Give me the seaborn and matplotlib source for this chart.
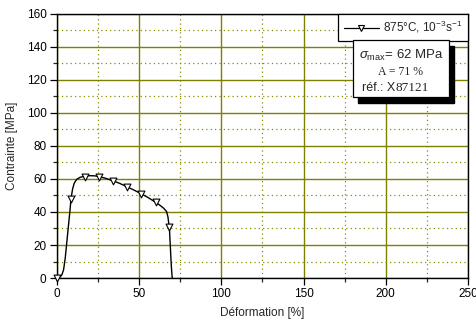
import matplotlib
matplotlib.use("Agg")
import matplotlib.pyplot as plt
from matplotlib.lines import Line2D
from matplotlib.patches import Rectangle
from matplotlib.ticker import MultipleLocator
import seaborn as sns
import pandas as pd

# Tensile curve at 875 °C, strain rate 1e-3 s^-1
strain = [0, 1, 2, 3, 4, 5, 6, 7, 8, 8.5, 9.5, 10.5, 12, 14, 17, 20, 23, 25.5,
          30, 34.3, 38, 42.8, 47, 51.3, 55, 60, 63, 65, 66.7, 67.5, 68, 68.5,
          69, 69.5, 70, 70.2]
stress = [0, 0.3, 0.8, 2, 5, 12, 22, 32, 42, 48, 54, 57.5, 59.8, 61, 61.8, 62,
          61.9, 61.5, 60.3, 58.8, 57.4, 55.2, 53.2, 51, 49, 45.9, 43.8, 42.2,
          40.2, 37, 33, 28, 18, 8, 1, 0]

# Symbols placed along the curve
marker_strain = [0, 8.5, 17, 25.5, 34.3, 42.8, 51.3, 60, 68.3]
marker_stress = [0, 48, 61.5, 61.5, 58.8, 55.2, 51, 45.9, 31]

legend_label = r"875°C, 10$^{-3}$s$^{-1}$"
sigma_max = 62
elongation = 71
ref_code = "87121"

sns.set_style("ticks")
plt.rcParams["font.family"] = ["Liberation Sans", "DejaVu Sans"]
plt.rcParams["mathtext.fontset"] = "custom"
plt.rcParams["mathtext.rm"] = "Liberation Sans"
plt.rcParams["mathtext.it"] = "Liberation Sans:italic"
plt.rcParams["mathtext.bf"] = "Liberation Sans:bold"

fig = plt.figure(figsize=(4.77, 3.25), dpi=100)
ax = fig.add_axes([0.1195, 0.1446, 0.8615, 0.8124])

curve = pd.DataFrame({"strain": strain, "stress": stress})
marks = pd.DataFrame({"strain": marker_strain, "stress": marker_stress})

sns.lineplot(data=curve, x="strain", y="stress", sort=False, color="black",
             linewidth=1.0, ax=ax, zorder=3)
sns.scatterplot(data=marks, x="strain", y="stress", marker="v", s=24,
                facecolor="white", edgecolor="black", linewidth=0.8,
                ax=ax, zorder=4, clip_on=False)

ax.set_xlim(0, 250)
ax.set_ylim(0, 160)
ax.xaxis.set_major_locator(MultipleLocator(50))
ax.xaxis.set_minor_locator(MultipleLocator(25))
ax.yaxis.set_major_locator(MultipleLocator(20))
ax.yaxis.set_minor_locator(MultipleLocator(10))

olive = "#808000"
ax.grid(which="major", color=olive, linewidth=1.0, linestyle="-", zorder=0)
ax.grid(which="minor", color="#8c8c00", linewidth=0.9, linestyle=(0, (1, 2.5)), zorder=0)
ax.set_axisbelow(True)

for s in ax.spines.values():
    s.set_color("black")
    s.set_linewidth(1.0)
    s.set_visible(True)

ax.tick_params(which="major", direction="out", length=5, width=0.9,
               labelsize=8.5, colors="black", pad=2.5)
ax.tick_params(which="minor", direction="out", length=2.8, width=0.9)

ax.set_xlabel("Déformation [%]", fontsize=8.5, labelpad=5)
ax.set_ylabel("Contrainte [MPa]", fontsize=8.5, labelpad=6)

handle = Line2D([], [], color="black", linewidth=0.9, marker="v",
                markersize=4, markerfacecolor="white",
                markeredgecolor="black", markeredgewidth=0.8)
leg = ax.legend([handle], [legend_label], loc="upper right", fontsize=8.5,
                frameon=True, fancybox=False, borderaxespad=0.0,
                handlelength=3.0, handletextpad=0.35, borderpad=0.45)
leg.get_frame().set_edgecolor("black")
leg.get_frame().set_linewidth(0.9)
leg.get_frame().set_alpha(1)

# Summary box with drop shadow
bx0, by0, bw, bh = 0.7195, 0.6845, 0.235, 0.217
ax.add_patch(Rectangle((bx0 + 0.012, by0 - 0.022), bw, bh, transform=ax.transAxes,
                       facecolor="black", edgecolor="black", zorder=5, clip_on=False))
ax.add_patch(Rectangle((bx0, by0), bw, bh, transform=ax.transAxes,
                       facecolor="white", edgecolor="black", linewidth=0.9,
                       zorder=6, clip_on=False))
cx = bx0 + bw / 2
ax.text(cx, 0.8447, r"$\sigma_{\rm max}$= " + f"{sigma_max} MPa",
        transform=ax.transAxes, ha="center", va="center", fontsize=9.5, zorder=7)
ax.text(cx, 0.7814, f"A = {elongation} %", transform=ax.transAxes,
        ha="center", va="center", fontsize=8.5, family="Liberation Serif", zorder=7)
ax.text(0.8235, 0.7197, "réf.: X", transform=ax.transAxes,
        ha="right", va="center", fontsize=9, zorder=7)
ax.text(0.8235, 0.7197, ref_code, transform=ax.transAxes,
        ha="left", va="center", fontsize=9.5, family="Liberation Serif", zorder=7)

fig.savefig("out.png", dpi=100)
